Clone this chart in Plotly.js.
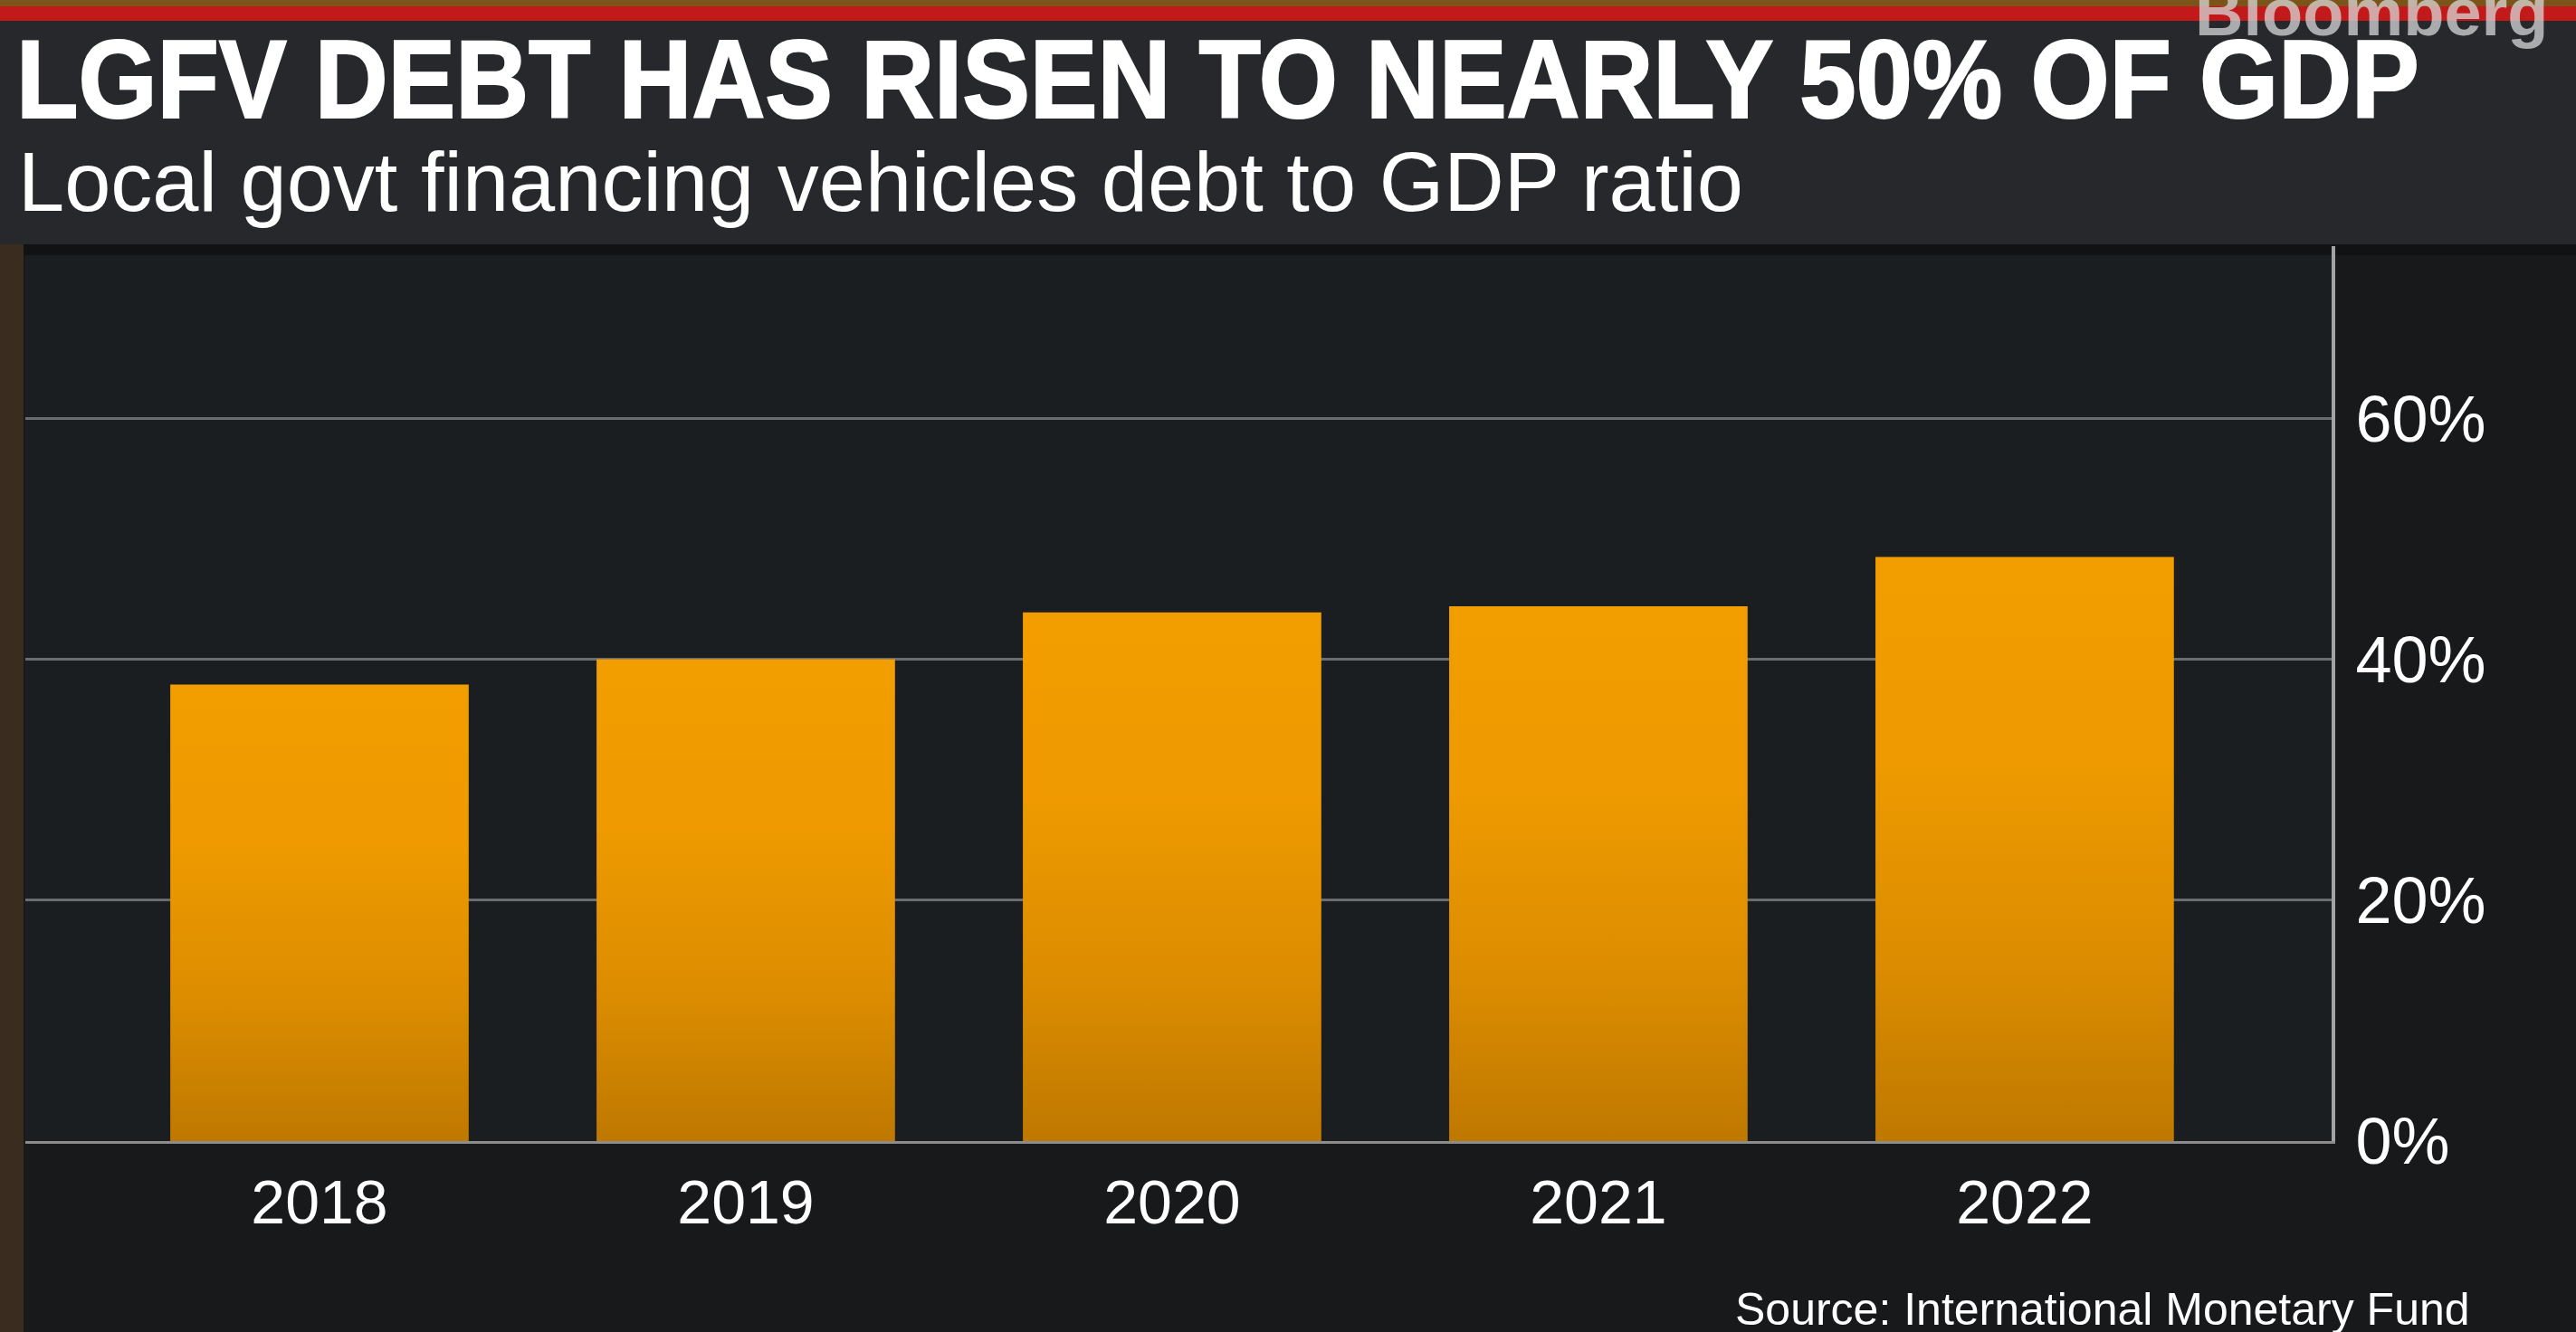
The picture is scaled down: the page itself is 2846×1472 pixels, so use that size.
<!DOCTYPE html>
<html>
<head>
<meta charset="utf-8">
<script src="https://cdn.plot.ly/plotly-3.0.1.min.js"></script>
<style>
  html, body { margin: 0; padding: 0; background: #17191b; overflow: hidden; }
  #chart { width: 2846px; height: 1472px; }
</style>
</head>
<body>
<div id="chart"></div>
<script>
// ---- data ----
const years = ['2018', '2019', '2020', '2021', '2022'];
const debtToGdp = [37.9, 40.0, 43.9, 44.4, 48.5];
const yTickVals = [0, 20, 40, 60];
const yTickText = ['0%', '20%', '40%', '60%'];

const titleText = 'LGFV DEBT HAS RISEN TO NEARLY 50% OF GDP';
const subtitleText = 'Local govt financing vehicles debt to GDP ratio';
const sourceText = 'Source: International Monetary Fund';

// ---- layout geometry (pixels) ----
const W = 2846, H = 1472;
const M = { l: 28, r: 270, t: 272, b: 211 };
const PW = W - M.l - M.r, PH = H - M.t - M.b;
const px = X => (X - M.l) / PW;           // pixel x -> paper x
const py = Y => (H - M.b - Y) / PH;       // pixel y -> paper y

const trace = {
  type: 'bar',
  x: years,
  y: debtToGdp,
  marker: { color: '#e59200', line: { width: 0 } },
  hoverinfo: 'skip'
};

const layout = {
  width: W, height: H,
  margin: M,
  paper_bgcolor: '#17191b',
  plot_bgcolor: '#1b1e20',
  showlegend: false,
  bargap: 0.3,
  font: { family: '"Liberation Sans", Arial, sans-serif', color: '#ffffff' },
  title: {
    text: titleText,
    font: { family: '"Liberation Sans", Arial, sans-serif', size: 112, color: '#ffffff', weight: 'bold' },
    xref: 'container', x: 18 / W, xanchor: 'left',
    yref: 'container', y: 1 - 90 / H, yanchor: 'middle'
  },
  xaxis: {
    type: 'category',
    range: [-0.69, 4.72],
    showgrid: false,
    zeroline: false,
    showline: true, linecolor: '#8c8c8c', linewidth: 3,
    ticks: 'outside', ticklen: 6, tickcolor: 'rgba(0,0,0,0)',
    tickfont: { size: 68, color: '#ffffff' },
    fixedrange: true
  },
  yaxis: {
    side: 'right',
    range: [0, 74.3],
    tickvals: yTickVals,
    ticktext: yTickText,
    showgrid: true, gridcolor: '#6a6c6f', gridwidth: 3,
    zeroline: false,
    showline: true, linecolor: '#a3a3a3', linewidth: 4,
    ticks: 'outside', ticklen: 8, tickcolor: 'rgba(0,0,0,0)',
    tickfont: { size: 72, color: '#ffffff' },
    fixedrange: true
  },
  shapes: [
    // header panel
    { type: 'rect', xref: 'paper', yref: 'paper', x0: px(0), x1: px(W), y0: py(270), y1: py(23),
      fillcolor: '#26282c', line: { width: 0 }, layer: 'below' },
    // red stripe
    { type: 'rect', xref: 'paper', yref: 'paper', x0: px(0), x1: px(W), y0: py(23), y1: py(7),
      fillcolor: '#c21a1a', line: { width: 0 }, layer: 'below' },
    // top photo strip
    { type: 'rect', xref: 'paper', yref: 'paper', x0: px(0), x1: px(W), y0: py(7), y1: py(0),
      fillcolor: '#7a5418', line: { width: 0 }, layer: 'below' },
    // left photo strip
    { type: 'rect', xref: 'paper', yref: 'paper', x0: px(0), x1: px(26), y0: py(H), y1: py(270),
      fillcolor: '#3a2c1f', line: { width: 0 }, layer: 'below' },
    // panel top shadow
    { type: 'rect', xref: 'paper', yref: 'paper', x0: px(26), x1: px(W), y0: py(282), y1: py(270),
      fillcolor: '#101214', line: { width: 0 }, layer: 'below' }
  ],
  annotations: [
    { text: subtitleText, xref: 'paper', yref: 'paper', x: px(18), y: py(201),
      xanchor: 'left', yanchor: 'middle', showarrow: false,
      font: { family: '"Liberation Sans", Arial, sans-serif', size: 92, color: '#ffffff' } },
    { text: 'Bloomberg', xref: 'paper', yref: 'paper', x: px(2423), y: py(14),
      xanchor: 'left', yanchor: 'middle', showarrow: false,
      font: { family: '"Liberation Sans", Arial, sans-serif', size: 74, color: 'rgba(215,215,215,0.75)', weight: 'bold' } },
    { text: sourceText, xref: 'paper', yref: 'paper', x: px(1915), y: py(1447),
      xanchor: 'left', yanchor: 'middle', showarrow: false,
      font: { family: '"Liberation Sans", Arial, sans-serif', size: 50, color: '#ffffff' } }
  ]
};

Plotly.newPlot('chart', [trace], layout, { staticPlot: true, displayModeBar: false }).then(gd => {
  const svg = gd.querySelector('svg.main-svg');
  const NS = 'http://www.w3.org/2000/svg';
  let defs = svg.querySelector('defs');
  if (!defs) { defs = document.createElementNS(NS, 'defs'); svg.insertBefore(defs, svg.firstChild); }
  const g = document.createElementNS(NS, 'linearGradient');
  g.setAttribute('id', 'barGrad');
  g.setAttribute('x1', '0'); g.setAttribute('y1', '0');
  g.setAttribute('x2', '0'); g.setAttribute('y2', '1');
  [['0', '#f29e00'], ['0.35', '#ee9a00'], ['0.7', '#db8c00'], ['1', '#bf7800']].forEach(([o, c]) => {
    const s = document.createElementNS(NS, 'stop');
    s.setAttribute('offset', o); s.setAttribute('stop-color', c);
    g.appendChild(s);
  });
  defs.appendChild(g);
  gd.querySelectorAll('.bars .point path').forEach(p => { p.style.fill = 'url(#barGrad)'; });

  // heavier, slightly taller headline (as in the broadcast graphic)
  const t = gd.querySelector('.gtitle');
  if (t) {
    const bb = t.getBBox();
    const base = bb.y + bb.height * 0.78;
    const prev = t.getAttribute('transform') || '';
    t.setAttribute('transform', prev + ` translate(0,${base}) scale(1,1.09) translate(0,${-base})`);
    t.style.stroke = '#ffffff';
    t.style.strokeWidth = '2px';
  }
});
</script>
</body>
</html>
